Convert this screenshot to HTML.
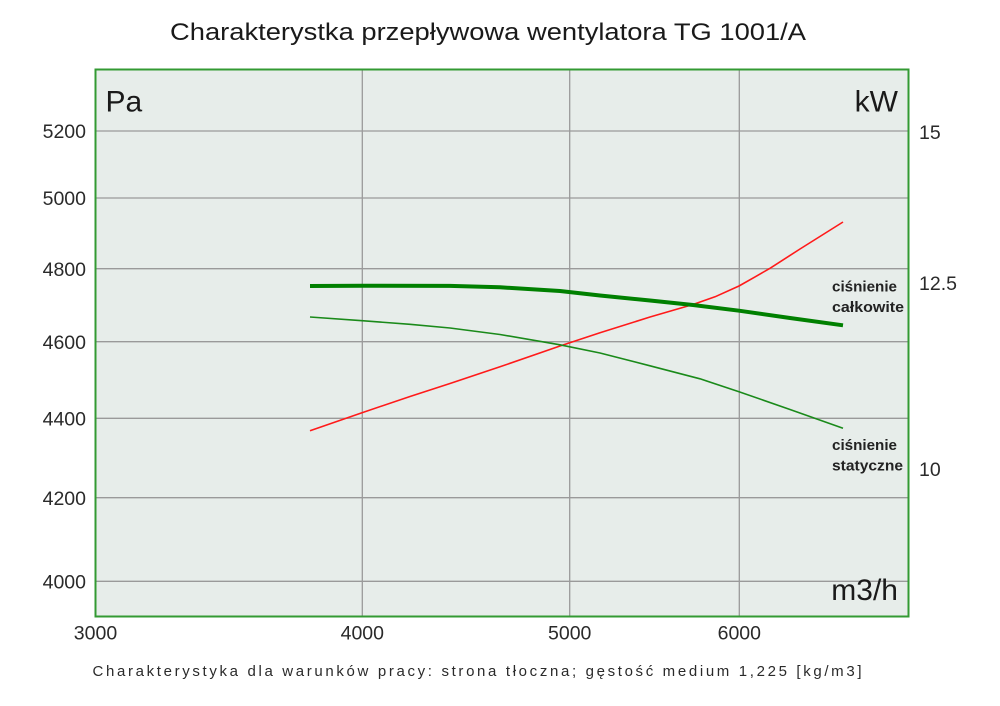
<!DOCTYPE html>
<html>
<head>
<meta charset="utf-8">
<style>
  html, body { margin: 0; padding: 0; background: #ffffff; }
  svg { display: block; }
  text { font-family: "Liberation Sans", "DejaVu Sans", sans-serif; }
</style>
</head>
<body>
<svg width="1000" height="706" viewBox="0 0 1000 706" xmlns="http://www.w3.org/2000/svg">
  <rect x="0" y="0" width="1000" height="706" fill="#ffffff"/>

  <!-- Title -->
  <text x="170" y="40" font-size="24" fill="#1a1a1a" textLength="636" lengthAdjust="spacingAndGlyphs">Charakterystka przepływowa wentylatora TG 1001/A</text>

  <!-- Plot background -->
  <rect x="95.5" y="69.5" width="813" height="547" fill="#e7edea"/>

  <!-- Grid -->
  <g stroke="#9a9a9a" stroke-width="1.3">
    <line x1="96" y1="131" x2="908" y2="131"/>
    <line x1="96" y1="198" x2="908" y2="198"/>
    <line x1="96" y1="268.7" x2="908" y2="268.7"/>
    <line x1="96" y1="341.7" x2="908" y2="341.7"/>
    <line x1="96" y1="418.3" x2="908" y2="418.3"/>
    <line x1="96" y1="497.7" x2="908" y2="497.7"/>
    <line x1="96" y1="581.3" x2="908" y2="581.3"/>
    <line x1="362.3" y1="70" x2="362.3" y2="616"/>
    <line x1="569.7" y1="70" x2="569.7" y2="616"/>
    <line x1="739.3" y1="70" x2="739.3" y2="616"/>
  </g>

  <!-- Plot border -->
  <rect x="95.5" y="69.5" width="813" height="547" fill="none" stroke="#339a33" stroke-width="2"/>

  <!-- Curves -->
  <polyline fill="none" stroke="#ff1a1a" stroke-width="1.6" stroke-linejoin="round"
    points="310,430.7 362,412.7 410,396.5 450,383.5 500,366.8 560,346 600,332.8 650,317 693,304.5 715,296.8 739,286 755,276.9 770,268.3 800,249 843,222"/>
  <polyline fill="none" stroke="#1a8a1a" stroke-width="1.6" stroke-linejoin="round"
    points="310,317 362,320.7 410,324.3 450,328 500,334.5 560,344.8 600,353 650,365.8 700,378.8 739,391.7 790,409.5 843,428.3"/>
  <polyline fill="none" stroke="#008000" stroke-width="4" stroke-linejoin="round"
    points="310,286 362,285.7 450,285.9 500,287.3 560,291 600,295.5 650,300.5 693,305 739,310.7 790,318 843,325.3"/>

  <!-- Curve labels -->
  <g font-size="14.5" font-weight="bold" fill="#222">
    <text x="832" y="291.5" textLength="65" lengthAdjust="spacingAndGlyphs">ciśnienie</text>
    <text x="832" y="312" textLength="72" lengthAdjust="spacingAndGlyphs">całkowite</text>
    <text x="832" y="450" textLength="65" lengthAdjust="spacingAndGlyphs">ciśnienie</text>
    <text x="832" y="470.5" textLength="71" lengthAdjust="spacingAndGlyphs">statyczne</text>
  </g>

  <!-- Unit labels -->
  <text x="105.5" y="111.5" font-size="30" fill="#1a1a1a">Pa</text>
  <text x="898" y="111.5" font-size="30" fill="#1a1a1a" text-anchor="end">kW</text>
  <text x="898" y="600" font-size="30" fill="#1a1a1a" text-anchor="end">m3/h</text>

  <!-- Left Y tick labels -->
  <g font-size="19.5" fill="#2a2a2a" text-anchor="end">
    <text x="86" y="138">5200</text>
    <text x="86" y="205">5000</text>
    <text x="86" y="276">4800</text>
    <text x="86" y="349">4600</text>
    <text x="86" y="425.5">4400</text>
    <text x="86" y="505">4200</text>
    <text x="86" y="588.5">4000</text>
  </g>

  <!-- Right Y tick labels -->
  <g font-size="19.5" fill="#2a2a2a">
    <text x="919" y="139">15</text>
    <text x="919" y="290">12.5</text>
    <text x="919" y="476">10</text>
  </g>

  <!-- X tick labels -->
  <g font-size="19.5" fill="#2a2a2a" text-anchor="middle">
    <text x="95.5" y="639.5">3000</text>
    <text x="362.3" y="639.5">4000</text>
    <text x="569.7" y="639.5">5000</text>
    <text x="739.3" y="639.5">6000</text>
  </g>

  <!-- Footer -->
  <text x="92.5" y="676" font-size="15" fill="#2a2a2a" textLength="769" lengthAdjust="spacing">Charakterystyka dla warunków pracy: strona tłoczna; gęstość medium 1,225 [kg/m3]</text>
</svg>
</body>
</html>
